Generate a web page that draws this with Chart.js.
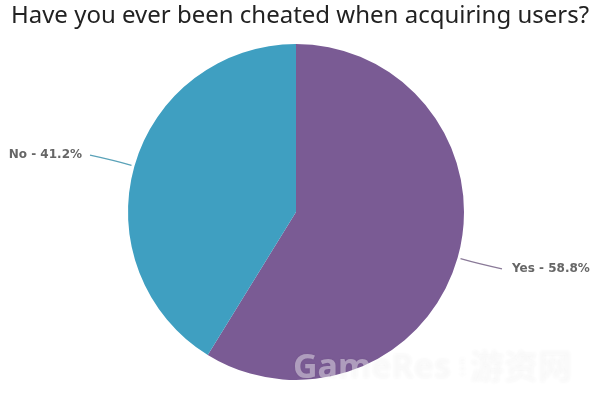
<!DOCTYPE html>
<html>
<head>
<meta charset="utf-8">
<script src="https://cdn.jsdelivr.net/npm/chart.js@4/dist/chart.umd.min.js"></script>
<style>
  html, body { margin: 0; padding: 0; background: #fff; }
  #wrap { width: 600px; height: 401px; position: relative; }
</style>
</head>
<body>
<div id="wrap"><canvas id="theChart"></canvas></div>
<script>
'use strict';

// data
let labels = ['Yes', 'No'];
let percents = [58.8, 41.2];
let sliceColors = ['#7a5b94', '#3f9fc1'];
let chartTitle = 'Have you ever been cheated when acquiring users?';

// title drawn across the full canvas width (the built-in one gets squeezed by side padding)
const wideTitle = {
  id: 'wideTitle',
  afterDraw(chart) {
    const ctx = chart.ctx;
    ctx.save();
    ctx.font = '24px "Noto Sans"';
    ctx.fillStyle = '#222';
    ctx.textAlign = 'center';
    ctx.textBaseline = 'middle';
    ctx.fillText(chartTitle, 300, 16);
    ctx.restore();
  }
};

// leader lines + "Yes - 58.8%" style labels
const sliceLabels = {
  id: 'sliceLabels',
  afterDatasetsDraw(chart) {
    const ctx = chart.ctx;
    const arcs = chart.getDatasetMeta(0).data;
    ctx.save();
    ctx.font = 'bold 12px "DejaVu Sans"';
    ctx.textBaseline = 'middle';
    for (let i = 0; i < arcs.length; i++) {
      const a = arcs[i];
      const mid = (a.startAngle + a.endAngle) / 2;
      const r = a.outerRadius;
      const cos = Math.cos(mid);
      const sin = Math.sin(mid);
      const right = cos >= 0;
      const x0 = a.x + cos * (r + 3);
      const y0 = a.y + sin * (r + 3);
      const cx1 = a.x + cos * (r + 22);
      const cy1 = a.y + sin * (r + 22);
      const x1 = a.x + (right ? 1 : -1) * (r + 38);
      const y1 = cy1 + (right ? 5 : -5);
      ctx.strokeStyle = right ? '#8a7a98' : '#5aa2b8';
      ctx.lineWidth = 1.2;
      ctx.beginPath();
      ctx.moveTo(x0, y0);
      ctx.quadraticCurveTo(cx1, cy1, x1, y1);
      ctx.stroke();
      ctx.fillStyle = '#666';
      ctx.textAlign = right ? 'left' : 'right';
      ctx.fillText(labels[i] + ' - ' + percents[i] + '%', x1 + (right ? 10 : -8), y1);
    }
    ctx.restore();
  }
};

// faint site watermark in the bottom right corner
const watermark = {
  id: 'watermark',
  afterDraw(chart) {
    const ctx = chart.ctx;
    ctx.save();
    ctx.shadowColor = 'rgba(0,0,0,0.12)';
    ctx.shadowBlur = 3;
    ctx.fillStyle = 'rgba(255,255,255,0.42)';
    ctx.textBaseline = 'middle';
    ctx.textAlign = 'left';
    ctx.font = 'bold 34px "Noto Sans"';
    ctx.fillText('GameRes', 293, 368);
    ctx.font = 'bold 9px "Noto Sans"';
    ctx.translate(462, 368);
    ctx.rotate(-Math.PI / 2);
    ctx.textAlign = 'center';
    ctx.fillText('.com', 0, 0);
    ctx.setTransform(1, 0, 0, 1, 0, 0);
    ctx.textAlign = 'left';
    ctx.font = 'bold 34px "Noto Sans CJK SC"';
    ctx.fillText('游资网', 470, 366);
    ctx.restore();
  }
};

new Chart(document.getElementById('theChart'), {
  type: 'pie',
  data: {
    labels: labels,
    datasets: [{
      data: percents,
      backgroundColor: sliceColors,
      borderWidth: 0
    }]
  },
  options: {
    responsive: true,
    maintainAspectRatio: false,
    animation: false,
    layout: { padding: { top: 44, bottom: 21, left: 128, right: 136 } },
    plugins: {
      legend: { display: false },
      tooltip: { enabled: false },
      title: { display: false }
    }
  },
  plugins: [wideTitle, sliceLabels, watermark]
});
</script>
</body>
</html>
